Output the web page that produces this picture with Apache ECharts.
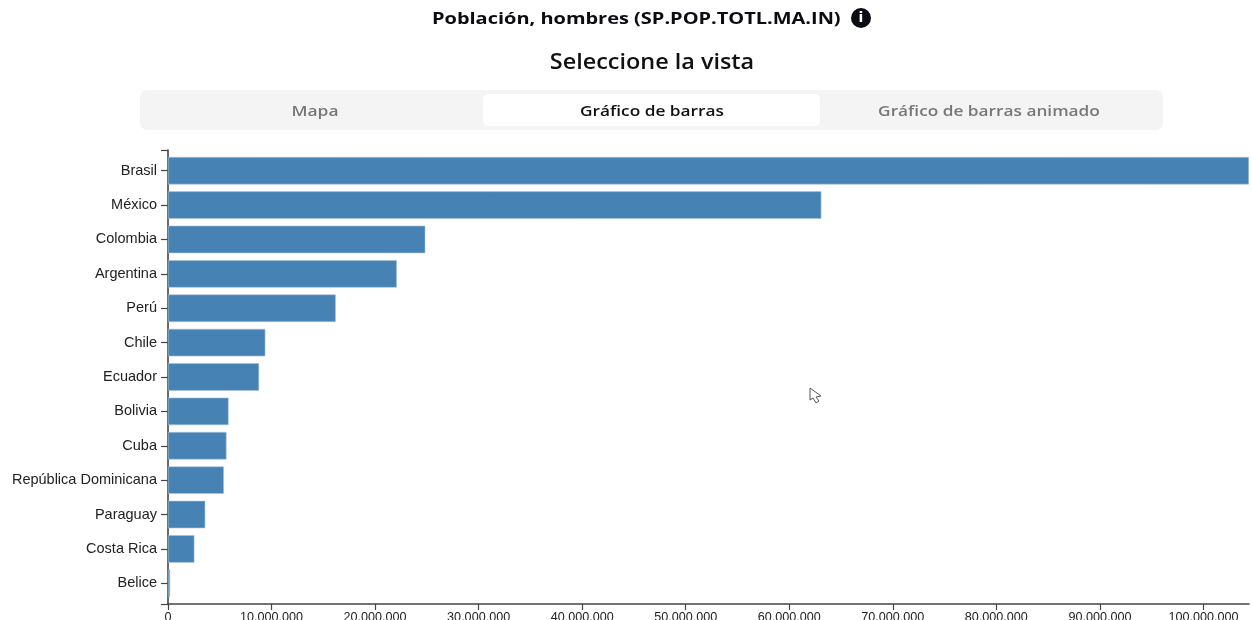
<!DOCTYPE html>
<html><head><meta charset="utf-8">
<style>html,body{margin:0;padding:0;background:#fff}#c{width:1252px;height:620px}</style>
<script src="https://cdn.jsdelivr.net/npm/echarts@6/dist/echarts.min.js"></script>
</head><body><div id="c"></div>
<script>
const categories = ['Brasil','México','Colombia','Argentina','Perú','Chile','Ecuador','Bolivia','Cuba','República Dominicana','Paraguay','Costa Rica','Belice'];
const values = [104400000,63100000,24850000,22100000,16200000,9400000,8800000,5850000,5650000,5400000,3600000,2550000,200000];
const axisMax = 104400000;
const tickStep = 10000000;
const mainTitle = 'Población, hombres (SP.POP.TOTL.MA.IN)';
const subTitle = 'Seleccione la vista';
const tabs = ['Mapa','Gráfico de barras','Gráfico de barras animado'];

const headFont = '"Open Sans", sans-serif';
const axisFont = '"Liberation Sans", Arial, sans-serif';
const fmt = v => String(v).replace(/\B(?=(\d{3})+$)/g,'.');
const chart = echarts.init(document.getElementById('c'),null,{renderer:'canvas'});
const head = (text,x,y,font,fill,scaleX,align) => ({type:'text',x,y,scaleX,z:3,silent:true,
  style:{text,x:0,y:0,align:align||'center',verticalAlign:'middle',font:font+' '+headFont,fill}});
chart.setOption({
  animation:false,
  backgroundColor:'#fff',
  grid:[
    {left:168,right:3,top:153.5,bottom:19.5,containLabel:false,outerBoundsMode:'none'},
    {left:168,right:3,top:150,bottom:16,containLabel:false,outerBoundsMode:'none'}
  ],
  xAxis:[
    {gridIndex:0,type:'value',min:0,max:axisMax,show:false},
    {gridIndex:1,type:'value',min:0,max:axisMax,interval:tickStep,
     axisLine:{show:true,lineStyle:{color:'#444',width:1.6}},
     axisTick:{show:true,length:6,lineStyle:{color:'#444',width:1.2}},
     axisLabel:{show:true,showMaxLabel:false,formatter:fmt,color:'#222',fontFamily:axisFont,fontSize:12.6,margin:7,fontWeight:500},
     splitLine:{show:false}}
  ],
  yAxis:[
    {gridIndex:0,type:'category',inverse:true,data:categories,
     axisLine:{show:false},
     axisTick:{show:true,length:7,alignWithLabel:true,lineStyle:{color:'#444',width:1.2}},
     axisLabel:{color:'#222',fontFamily:axisFont,fontSize:14.5,margin:11},
     splitLine:{show:false}},
    {gridIndex:1,type:'value',min:0,max:1,interval:1,
     axisLine:{show:true,lineStyle:{color:'#444',width:1.6}},
     axisTick:{show:true,length:7,lineStyle:{color:'#444',width:1.2}},
     axisLabel:{show:false},splitLine:{show:false}}
  ],
  series:[{type:'bar',xAxisIndex:0,yAxisIndex:0,data:values,barWidth:'80%',
    itemStyle:{color:'#4682b4',borderColor:'#a9c4dc',borderWidth:0.6},z:1}],
  graphic:[
    {type:'rect',shape:{x:140,y:90,width:1023,height:40,r:7},style:{fill:'#f4f4f4'},silent:true,z:0},
    {type:'rect',shape:{x:483,y:94,width:337,height:32,r:5},style:{fill:'#fff'},silent:true,z:1},
    head(mainTitle,432,19.5,'700 16.5px','#0b0b14',1.21,'left'),
    head(subTitle,652,63.5,'600 21px','#111',1.115),
    head(tabs[0],315,111.5,'600 15px','#777',1.16),
    head(tabs[1],652,111.5,'600 15px','#111',1.15),
    head(tabs[2],989,111.5,'600 15px','#777',1.15),
    {type:'circle',shape:{cx:861,cy:18,r:10},style:{fill:'#0b0b14'},z:2},
    {type:'text',x:861,y:18,style:{text:'i',x:0,y:0,align:'center',verticalAlign:'middle',font:'700 14px "DejaVu Sans"',fill:'#fff'},z:3},
    {type:'polygon',shape:{points:[[810,388],[810,400],[813,398],[816,403],[819,401],[816,397],[821,396]]},style:{fill:'#fff',stroke:'#555',lineWidth:1},z:5}
  ]
});
</script></body></html>
